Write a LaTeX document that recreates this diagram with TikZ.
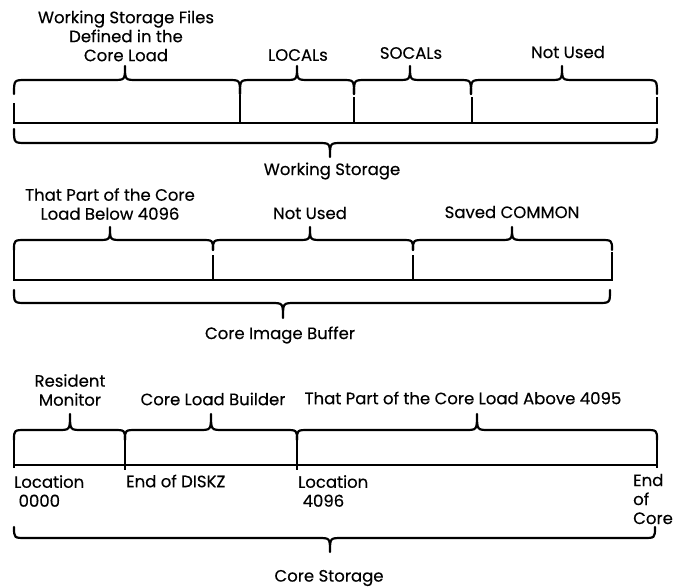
\documentclass[tikz,border=0pt]{standalone}
\usepackage{fontspec}
\setmainfont{Poppins}[FakeBold=0.3]
\newcommand{\mybrace}[6]{%
  \draw[br] (#1,#4) .. controls (#1,#5) .. (#1+12,#5) -- (#2-12,#5)
    .. controls (#2,#5) .. (#2,#6) .. controls (#2,#5) .. (#2+12,#5)
    -- (#3-12,#5) .. controls (#3,#5) .. (#3,#4);}
\begin{document}
\begin{tikzpicture}[x=1pt,y=-1pt,
  br/.style={line width=2.2pt,line cap=round,line join=round},
  bar/.style={line width=2.2pt},
  lbl/.style={inner sep=0pt,align=center,font=\fontsize{16.5}{19}\selectfont},
  lbll/.style={lbl,anchor=west,align=left}]
\useasboundingbox (0,0) rectangle (683,587);
% ---------- Working Storage ----------
\node[lbl] (wsf) at (126,36) {Working Storage Files\\Defined in the\\Core Load};
\node[lbl] (loc) at (298,55) {LOCALs};
\node[lbl] (soc) at (411,53) {SOCALs};
\node[lbl] (nu1) at (568,52) {Not Used};
\mybrace{14}{125}{240}{94}{80}{66}
\mybrace{240}{297}{354}{94}{80}{66}
\mybrace{354}{410}{471}{94}{80}{66}
\mybrace{471}{562}{657}{94}{80}{66}
\draw[bar] (14,103) -- (14,123) -- (657,123) -- (657,97);
\draw[bar] (240,95) -- (240,123);
\draw[bar] (354,97) -- (354,123);
\draw[bar] (472,97) -- (472,123);
\mybrace{14}{330}{657}{129}{143}{157}
\node[lbl] (ws) at (332,171) {Working Storage};
% ---------- Core Image Buffer ----------
\node[lbl] (blw) at (110,204) {That Part of the Core\\Load Below 4096};
\node[lbl] (nu2) at (310,213) {Not Used};
\node[lbl] (sc) at (512,212) {Saved COMMON};
\mybrace{14}{110}{213}{250}{240}{227}
\mybrace{213}{310}{413}{250}{240}{227}
\mybrace{413}{512}{612}{250}{240}{227}
\draw[bar] (14,250) -- (14,280) -- (612,280) -- (612,252);
\draw[bar] (213,255) -- (213,280);
\draw[bar] (413,255) -- (413,280);
\mybrace{14}{283}{610}{290}{303}{318}
\node[lbl] (cib) at (280,335) {Core Image Buffer};
% ---------- Core Storage ----------
\node[lbl] (rm) at (70,390) {Resident\\Monitor};
\node[lbl] (clb) at (213,399) {Core Load Builder};
\node[lbl] (abv) at (463,398) {That Part of the Core Load Above 4095};
\mybrace{14}{70}{125}{440}{430}{414}
\mybrace{125}{211}{297}{440}{430}{414}
\mybrace{297}{477}{657}{440}{430}{414}
\draw[bar] (14,437) -- (14,468);
\draw[bar] (14,465) -- (657,465);
\draw[bar] (125,440) -- (125,470);
\draw[bar] (297,440) -- (297,470);
\draw[bar] (657,434) -- (657,468);
\node[lbll] (l0) at (14,491) {Location\\\ 0000};
\node[lbll] (eod) at (126,481) {End of DISKZ};
\node[lbll] (l4) at (298,491) {Location\\\ 4096};
\node[lbll] (eoc) at (633,499) {End\\of\\Core};
\mybrace{14}{330}{655}{527}{538}{552}
\node[lbl] (cs) at (329,578) {Core Storage};
\end{tikzpicture}
\end{document}
